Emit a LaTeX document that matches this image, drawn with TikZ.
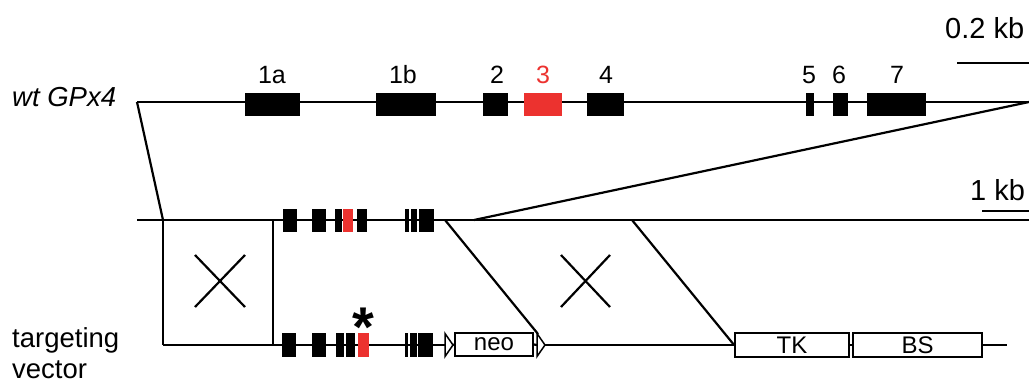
\documentclass[tikz,border=0pt]{standalone}
\usepackage{fontspec}
\setmainfont{Liberation Sans}
\definecolor{exred}{RGB}{236,50,47}
\begin{document}
\begin{tikzpicture}[x=1pt,y=-1pt,
  dna/.style={line width=2.2pt},
  exon/.style={rectangle,fill=black,draw=none,inner sep=0pt,minimum height=23.5pt},
  redexon/.style={exon,fill=exred},
  cassette/.style={rectangle,draw=black,line width=1.8pt,fill=white,inner sep=0pt,minimum height=23pt,font=\fontsize{24}{24}\selectfont},
  loxp/.style={draw=black,line width=1.5pt,fill=white,line join=miter},
  exlab/.style={anchor=base,inner sep=0pt,font=\fontsize{25}{25}\selectfont},
  txt/.style={anchor=base west,inner sep=0pt,font=\fontsize{27.5}{27.5}\selectfont},
  scaletxt/.style={anchor=base west,inner sep=0pt,font=\fontsize{29}{29}\selectfont},
  cross/.style={line width=2.2pt}]
\useasboundingbox (0,0) rectangle (1029,383);

% ---- wild-type locus
\coordinate (wL) at (137,102);
\coordinate (wR) at (1029,102);
\draw[dna] (wL) -- (wR);
\foreach \n/\c/\w in {e1a/272.5/55, e1b/406/60, e2/495.5/25, e4/605.5/37, e5/810/8, e6/840.5/15, e7/896.5/59}
  \node[exon,minimum width=\w pt] (\n) at (\c,104.5) {};
\node[redexon,minimum width=38pt] (e3) at (543,104.5) {};
\node[exlab] (l1a) at (272,83) {1a};
\node[exlab] (l1b) at (403,83) {1b};
\node[exlab] (l2) at (497,83) {2};
\node[exlab,text=exred] (l3) at (543,83) {3};
\node[exlab] (l4) at (606,83) {4};
\node[exlab] (l5) at (809,83) {5};
\node[exlab] (l6) at (839,83) {6};
\node[exlab] (l7) at (897,83) {7};
\node[txt,font=\fontsize{27.5}{27.5}\selectfont\itshape] (wt) at (12,106) {wt GPx4};

% scale bars
\node[scaletxt] (sb1) at (945,38) {0.2 kb};
\coordinate (s1a) at (957,63);
\coordinate (s1b) at (1029,63);
\draw[dna] (s1a) -- (s1b);
\node[scaletxt] (sb2) at (970,200) {1 kb};
\coordinate (s2a) at (982,211);
\coordinate (s2b) at (1029,211);
\draw[dna] (s2a) -- (s2b);

% ---- middle (genomic, 1 kb scale)
\coordinate (mL) at (137,220);
\coordinate (mR) at (1029,220);
\coordinate (mA) at (163,220);
\coordinate (mB) at (273,220);
\coordinate (mC) at (445,220);
\coordinate (mD) at (474,220);
\coordinate (mE) at (632,220);
\draw[dna] (mL) -- (mR);
\draw[dna] (wL) -- (mA);
\draw[dna] (wR) -- (mD);
\foreach \n/\c/\w in {m1/290/14, m2/319/14, m3/338.5/7, m5/362/10, m6/407/4, m7/414/6, m8/426.5/15}
  \node[exon,minimum width=\w pt] (\n) at (\c,220.5) {};
\node[redexon,minimum width=10pt] (m4) at (348,220.5) {};

% ---- targeting vector
\coordinate (bA) at (163,345);
\coordinate (bB) at (273,345);
\coordinate (x1w) at (445,345);
\coordinate (x1e) at (453,345);
\coordinate (x2w) at (537,345);
\coordinate (x2e) at (545,345);
\coordinate (x2n) at (538,334);
\coordinate (bEnd) at (1007,345);
\node[cassette,minimum width=78pt] (neo) at (494,344.5) {neo};
\node[cassette,minimum width=114pt,minimum height=24pt] (TK) at (792,345) {TK};
\node[cassette,minimum width=129pt,minimum height=24pt] (BS) at (917.5,345) {BS};
\draw[dna] (bA) -- (x1w);
\draw[dna] (x1e) -- (neo.west);
\draw[dna] (neo.east) -- (x2w);
\draw[dna] (x2e) -- (TK.west);
\draw[dna] (TK.east) -- (BS.west);
\draw[dna] (BS.east) -- (bEnd);
\draw[loxp] (x1w) ++(0,-11.5) -- (x1e) -- ++(-8,11.5) -- cycle;
\draw[loxp] (x2w) ++(0,-11.5) -- (x2e) -- ++(-8,11.5) -- cycle;
\foreach \n/\c/\w in {b1/289/14, b2/319/14, b3/340/8, b4/350.5/9, b6/406.5/3, b7/413.5/7, b8/425.5/15}
  \node[exon,minimum width=\w pt] (\n) at (\c,345) {};
\node[redexon,minimum width=11pt] (b5) at (363.5,345) {};
\node[anchor=base,inner sep=0pt,font=\fontsize{56}{56}\selectfont\bfseries] (ast) at (363,346) {*};

% homologous arms
\draw[dna] (mA) -- (bA);
\draw[dna] (mB) -- (bB);
\draw[dna] (mC) -- (x2n);
\draw[dna] (mE) -- (TK.west);
\coordinate (c1a) at (195,255);
\coordinate (c1b) at (245,307);
\coordinate (c1c) at (245,255);
\coordinate (c1d) at (195,307);
\draw[cross] (c1a) -- (c1b);
\draw[cross] (c1c) -- (c1d);
\coordinate (c2a) at (561,255);
\coordinate (c2b) at (610,307);
\coordinate (c2c) at (610,255);
\coordinate (c2d) at (561,307);
\draw[cross] (c2a) -- (c2b);
\draw[cross] (c2c) -- (c2d);

\node[txt] (tv1) at (12,347) {targeting};
\node[txt] (tv2) at (12,378) {vector};
\end{tikzpicture}
\end{document}
